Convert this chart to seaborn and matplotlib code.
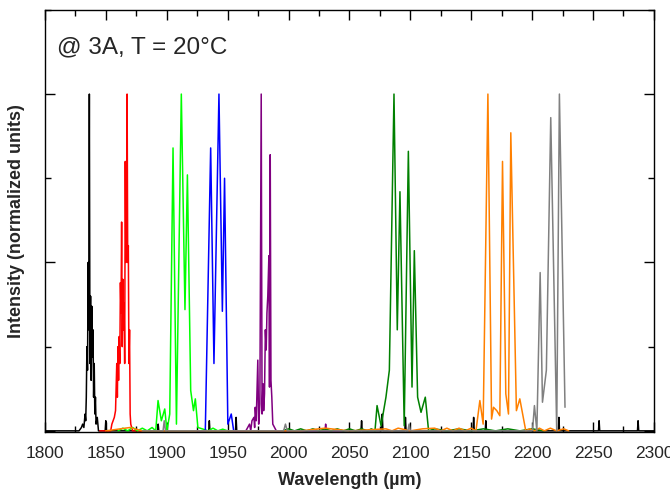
import numpy as np
import pandas as pd
import seaborn as sns
import matplotlib.pyplot as plt
from matplotlib.ticker import MultipleLocator, NullFormatter

# spectra (wavelength, normalized intensity)
black_wl = [1800, 1828, 1830, 1831, 1832, 1833, 1833.5, 1834, 1834.5, 1835, 1835.5, 1836, 1836.5,
            1837, 1837.5, 1838, 1838.5, 1839, 1839.5, 1840, 1840.5, 1841, 1841.5, 1842, 1843, 1844,
            1849.5, 1850, 1850.5, 1892.5, 1893, 1893.5, 1934.5, 1935, 1935.5, 1956.5, 1957, 1957.5,
            2059.5, 2060, 2060.5, 2076.5, 2077, 2077.5, 2095.5, 2096, 2096.5, 2151.5, 2152, 2152.5,
            2161.5, 2162, 2162.5, 2221.5, 2222, 2222.5, 2254.5, 2255, 2255.5, 2286.5, 2287, 2287.5,
            2300]
black_int = [0, 0, 0.01, 0.02, 0.01, 0.05, 0.03, 0.1, 0.25, 0.18, 0.5, 0.3, 1.0,
             0.2, 0.4, 0.15, 0.37, 0.22, 0.3, 0.1, 0.2, 0.05, 0.1, 0.02, 0.04, 0,
             0, 0.03, 0, 0, 0.02, 0, 0, 0.03, 0, 0, 0.04, 0,
             0, 0.03, 0, 0, 0.05, 0, 0, 0.04, 0, 0, 0.04, 0,
             0, 0.03, 0, 0, 0.04, 0, 0, 0.03, 0, 0, 0.03, 0,
             0]

red_wl = [1845, 1854, 1855, 1856, 1857, 1858, 1859, 1859.5, 1860, 1860.5, 1861, 1861.5, 1862,
          1862.5, 1863, 1863.5, 1864, 1864.5, 1865, 1865.5, 1866, 1866.5, 1867, 1867.5, 1868,
          1868.5, 1869, 1869.5, 1870, 1870.5, 1872, 1880]
red_int = [0, 0, 0.02, 0.03, 0.04, 0.06, 0.2, 0.1, 0.25, 0.15, 0.28, 0.2, 0.44,
           0.35, 0.62, 0.25, 0.45, 0.3, 0.38, 0.2, 0.8, 0.5, 0.55, 1.0, 0.5,
           0.55, 0.2, 0.3, 0.05, 0.02, 0, 0]

lime_wl = [1860, 1864, 1868, 1872, 1876, 1880, 1884, 1888, 1891, 1892.9, 1895.6, 1898.4, 1900.2,
           1902.5, 1905.2, 1908, 1912, 1915, 1917, 1919.7, 1922, 1923.5, 1925.6, 1930, 1934,
           1938, 1942, 1946, 1950]
lime_int = [0, 0.008, 0, 0.01, 0, 0.008, 0, 0.01, 0, 0.09, 0.03, 0.065, 0,
            0.05, 0.84, 0.02, 1.0, 0.36, 0.76, 0.12, 0.06, 0.095, 0.01, 0.005, 0,
            0.008, 0, 0.005, 0]

blue_wl = [1925, 1931.7, 1936.1, 1938.8, 1942.9, 1945.7, 1947.5, 1950.2, 1953, 1955, 1960]
blue_int = [0, 0, 0.84, 0.2, 1.0, 0.355, 0.75, 0.02, 0.05, 0, 0]

purple_wl = [1955, 1965, 1968, 1969, 1970, 1971.6, 1972.2, 1972.7, 1973.5, 1974.8, 1975.5, 1976.5,
             1977.6, 1978.3, 1979, 1979.6, 1980.3, 1981, 1981.7, 1982.3, 1983, 1983.9, 1984.4,
             1985, 1985.6, 1986.3, 1987.1, 1990, 2030, 2030.5, 2031, 2045]
purple_int = [0, 0, 0.02, 0, 0.03, 0.04, 0.01, 0.07, 0.03, 0.21, 0.02, 0.08,
              1.0, 0.05, 0.14, 0.06, 0.11, 0.3, 0.24, 0.35, 0.4, 0.52, 0.13,
              0.82, 0.15, 0.1, 0.02, 0, 0, 0.02, 0, 0]

green_wl = [1995, 2000, 2005, 2010, 2015, 2020, 2025, 2030, 2035, 2040, 2045, 2050, 2055, 2060,
            2065, 2068, 2071, 2072.7, 2076, 2080, 2082.8, 2086.6, 2089.3, 2091.5, 2095, 2098.4,
            2101.4, 2103.3, 2106, 2108.8, 2112.3, 2115, 2120, 2130, 2140, 2150, 2160, 2170,
            2180, 2190, 2200, 2210]
green_int = [0, 0.006, 0, 0.006, 0, 0.006, 0, 0.006, 0, 0.006, 0, 0.006, 0, 0.006,
             0, 0.006, 0, 0.075, 0.015, 0.1, 0.18, 1.0, 0.3, 0.71, 0.015, 0.83,
             0.13, 0.535, 0.1, 0.055, 0.1, 0, 0.006, 0, 0.006, 0, 0.006, 0,
             0.006, 0, 0.006, 0]

orange_wl = [1850, 1870, 1880, 2010, 2030, 2050, 2080, 2085, 2090, 2100, 2110, 2120, 2125, 2130,
             2135, 2140, 2145, 2150, 2153.9, 2157.1, 2159.8, 2163.7, 2166.7, 2168.3, 2171,
             2173.5, 2175.7, 2178.4, 2180.6, 2182.5, 2187.1, 2189.9, 2194.8, 2198, 2202, 2206,
             2210, 2215, 2220, 2226, 2230]
orange_int = [0, 0.01, 0, 0, 0.008, 0, 0.006, 0, 0.008, 0, 0.006, 0.008, 0, 0.008,
              0, 0.008, 0, 0.008, 0, 0.09, 0.02, 1.0, 0.035, 0.07, 0.06,
              0.045, 0.8, 0.11, 0.05, 0.885, 0.06, 0.095, 0, 0.006, 0, 0.008,
              0, 0.008, 0, 0.006, 0]

gray_wl = [1880, 1897, 1898, 1899, 1996, 1997.5, 1999, 2098, 2099, 2100, 2190, 2198, 2200.3,
           2201.9, 2203.9, 2206.6, 2208.5, 2211.7, 2215.3, 2220.2, 2222.4, 2227]
gray_int = [0, 0, 0.03, 0, 0, 0.02, 0, 0, 0.02, 0, 0, 0, 0,
            0.075, 0, 0.47, 0.085, 0.18, 0.93, 0, 1.0, 0.07]

series = [
    ("black", black_wl, black_int),
    ("#ff0000", red_wl, red_int),
    ("#00ff00", lime_wl, lime_int),
    ("#0000ff", blue_wl, blue_int),
    ("#800080", purple_wl, purple_int),
    ("#008000", green_wl, green_int),
    ("#ff8000", orange_wl, orange_int),
    ("#808080", gray_wl, gray_int),
]

sns.set_theme(style="ticks")
plt.rcParams['font.family'] = ['Liberation Sans', 'DejaVu Sans']

fig = plt.figure(figsize=(6.7, 4.93), dpi=100)
ax = fig.add_axes([0.067, 0.124, 0.909, 0.856])

for color, wl, inten in series:
    df = pd.DataFrame({"wl": wl, "I": inten})
    sns.lineplot(data=df, x="wl", y="I", color=color, linewidth=1.1, ax=ax,
                 estimator=None, sort=False)

ax.set_xlim(1800, 2300)
ax.set_ylim(-0.003, 1.25)
ax.xaxis.set_major_locator(MultipleLocator(50))
ax.xaxis.set_minor_locator(MultipleLocator(25))
ax.yaxis.set_major_locator(MultipleLocator(0.5))
ax.yaxis.set_minor_locator(MultipleLocator(0.25))
ax.yaxis.set_major_formatter(NullFormatter())
ax.tick_params(which="both", direction="in", top=True, right=True, color="black", width=1)
ax.tick_params(which="major", length=7, labelsize=12.5, pad=10)
ax.tick_params(which="minor", length=4)
for s in ax.spines.values():
    s.set_color("black")
    s.set_linewidth(1)

ax.set_xlabel("Wavelength (µm)", fontsize=13, fontweight="bold", labelpad=8)
ax.set_ylabel("Intensity (normalized units)", fontsize=13, fontweight="bold", labelpad=4)
ax.text(0.02, 0.912, "@ 3A, T = 20°C", transform=ax.transAxes, fontsize=17.5,
        va="center", ha="left")

fig.savefig("out.png", dpi=100)
